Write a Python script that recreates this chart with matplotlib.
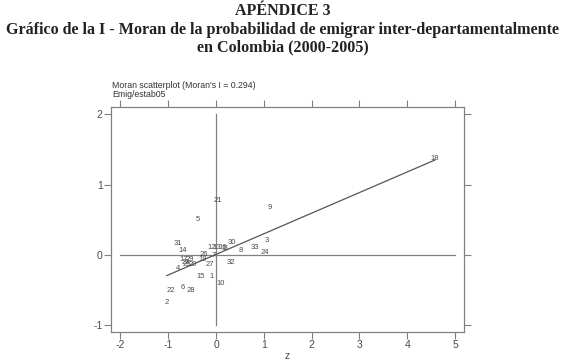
#!/usr/bin/env python3
"""Moran scatterplot of inter-departmental emigration probability, Colombia 2000-2005."""

import matplotlib
matplotlib.use('Agg')
import matplotlib.pyplot as plt
import numpy as np

plt.rcParams['axes.unicode_minus'] = False

# Department ids and their (z, Wz) coordinates
dept = ['1', '2', '3', '4', '5', '6', '7', '8', '9', '10', '11', '12', '13', '14',
        '15', '16', '17', '18', '19', '20', '21', '22', '23', '24', '25', '26',
        '27', '28', '29', '30', '31', '32', '33']
z = [-0.10, -1.03, 1.07, -0.79, -0.38, -0.69, -0.04, 0.52, 1.13, 0.10, 0.19, -0.10,
     0.02, -0.69, -0.33, 0.13, -0.67, 4.58, -0.27, -0.48, 0.04, -0.94, -0.63, 1.03,
     -0.62, -0.25, -0.13, -0.52, -0.54, 0.33, -0.79, 0.31, 0.82]
wz = [-0.31, -0.68, 0.20, -0.20, 0.51, -0.47, -0.01, 0.06, 0.68, -0.40, 0.09, 0.11,
      0.11, 0.06, -0.31, 0.11, -0.06, 1.37, -0.07, -0.14, 0.77, -0.51, -0.11, 0.03,
      -0.13, 0.01, -0.13, -0.50, -0.06, 0.18, 0.16, -0.11, 0.10]

xticks = [-2, -1, 0, 1, 2, 3, 4, 5]
yticks = [-1, 0, 1, 2]

gray = '#808080'
txt = '#4a4a4a'

fig = plt.figure(figsize=(5.66, 3.6), dpi=100)

# Header (serif, bold)
fig.text(0.5, 0.970, 'APÉNDICE 3', ha='center', va='center', family='Liberation Serif',
         fontweight='bold', fontsize=11.5, color='#222222')
fig.text(0.5, 0.918, 'Gráfico de la I - Moran de la probabilidad de emigrar inter-departamentalmente',
         ha='center', va='center', family='Liberation Serif', fontweight='bold',
         fontsize=11.6, color='#222222')
fig.text(0.5, 0.868, 'en Colombia (2000-2005)', ha='center', va='center',
         family='Liberation Serif', fontweight='bold', fontsize=11.6, color='#222222')

ax = fig.add_axes([0.196, 0.078, 0.624, 0.625])

# reference lines
ax.plot([xticks[0], xticks[-1]], [0, 0], color=gray, lw=0.9)
ax.plot([0, 0], [yticks[0], yticks[-1]], color=gray, lw=0.9)

# fitted line over the range of z
slope, icpt = np.polyfit(z, wz, 1)
xs = np.array([min(z), max(z)])
ax.plot(xs, icpt + slope * xs, color='#555555', lw=0.9)

for lab, xv, yv in zip(dept, z, wz):
    ax.text(xv, yv, lab, ha='center', va='center', fontsize=5.5,
            family='Liberation Sans', color=txt)

ax.set_xlim(-2.2, 5.19)
ax.set_ylim(-1.095, 2.105)
ax.set_xticks(xticks)
ax.set_yticks(yticks)
ax.tick_params(which='both', direction='out', length=5, width=0.8, color=gray,
               labelsize=7.5, labelcolor=txt, top=True, right=True,
               labeltop=False, labelright=False, pad=1)
for lab in ax.get_xticklabels() + ax.get_yticklabels():
    lab.set_family('Liberation Sans')
for s in ax.spines.values():
    s.set_color(gray)
    s.set_linewidth(0.9)
ax.set_xlabel('z', fontsize=7.5, color=txt, family='Liberation Sans')
ax.xaxis.set_label_coords(0.5, -0.085)

fig.text(0.198, 0.762, "Moran scatterplot (Moran's I = 0.294)", fontsize=6.3,
         family='Liberation Sans', color='#333333', va='center')
fig.text(0.198, 0.737, 'Emig/estab05', fontsize=6.3, family='Liberation Sans',
         color='#333333', va='center')

plt.savefig('out.png', dpi=100)
plt.close()
